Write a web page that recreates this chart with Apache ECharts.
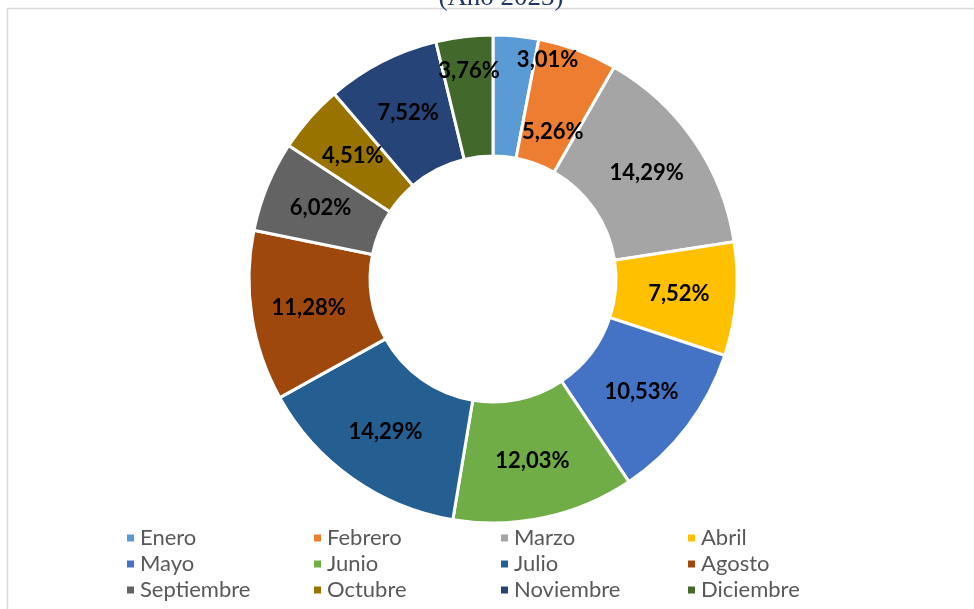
<!DOCTYPE html>
<html>
<head>
<meta charset="utf-8">
<script src="https://cdn.jsdelivr.net/npm/echarts@6/dist/echarts.min.js"></script>
<style>
  html, body { margin: 0; padding: 0; background: #fff; }
  #chart { width: 974px; height: 609px; }
</style>
</head>
<body>
<div id="chart"></div>
<script>
// meses y conteos (porcentaje = conteo / total)
var meses = ['Enero', 'Febrero', 'Marzo', 'Abril', 'Mayo', 'Junio',
  'Julio', 'Agosto', 'Septiembre', 'Octubre', 'Noviembre', 'Diciembre']
var conteos = [4, 7, 19, 10, 14, 16, 19, 15, 8, 6, 10, 5]
var colores = ['#5B9BD5', '#ED7D31', '#A5A5A5', '#FFC000', '#4472C4', '#70AD47',
  '#255E91', '#9E480E', '#636363', '#997300', '#264478', '#43682B']
// etiquetas que Excel movio fuera del centro del sector
var desplazamientos = { 'Enero': [37, -33], 'Febrero': [-5, 28], 'Diciembre': [-2, -23] }

var total = conteos.reduce(function (a, b) { return a + b }, 0)

var datos = meses.map(function (m, i) {
  var d = { name: m, value: conteos[i], itemStyle: { color: colores[i] } }
  if (desplazamientos[m]) {
    d.label = { offset: desplazamientos[m] }
  }
  return d
})

var chart = echarts.init(document.getElementById('chart'))
chart.setOption({
  animation: false,
  graphic: [
    {
      type: 'rect',
      shape: { x: 7.5, y: 8.5, width: 1000, height: 700 },
      style: { fill: 'none', stroke: '#D9D9D9', lineWidth: 1.5 },
      silent: true
    },
    {
      type: 'text',
      x: 501,
      y: -2,
      style: {
        text: '(Año 2023)',
        font: '27px "Liberation Serif"',
        fill: '#1F3864',
        textAlign: 'center',
        textVerticalAlign: 'middle'
      }
    }
  ],
  legend: {
    data: meses,
    left: 120,
    top: 522,
    width: 820,
    orient: 'horizontal',
    icon: 'rect',
    itemWidth: 9,
    itemHeight: 9,
    itemGap: 4,
    textStyle: {
      color: '#595959',
      fontSize: 22,
      fontFamily: 'Lato',
      width: 168,
      lineHeight: 20,
      overflow: 'none'
    }
  },
  series: [{
    type: 'pie',
    center: [493, 279],
    radius: [123, 244],
    startAngle: 90,
    clockwise: true,
    avoidLabelOverlap: false,
    itemStyle: { borderColor: '#fff', borderWidth: 3 },
    label: {
      show: true,
      position: 'inside',
      color: '#000',
      fontFamily: 'Lato',
      fontWeight: 'bold',
      fontSize: 22,
      formatter: function (p) {
        return (p.value / total * 100).toFixed(2).replace('.', ',') + '%'
      }
    },
    labelLine: { show: false },
    emphasis: { disabled: true },
    data: datos
  }]
})
</script>
</body>
</html>
